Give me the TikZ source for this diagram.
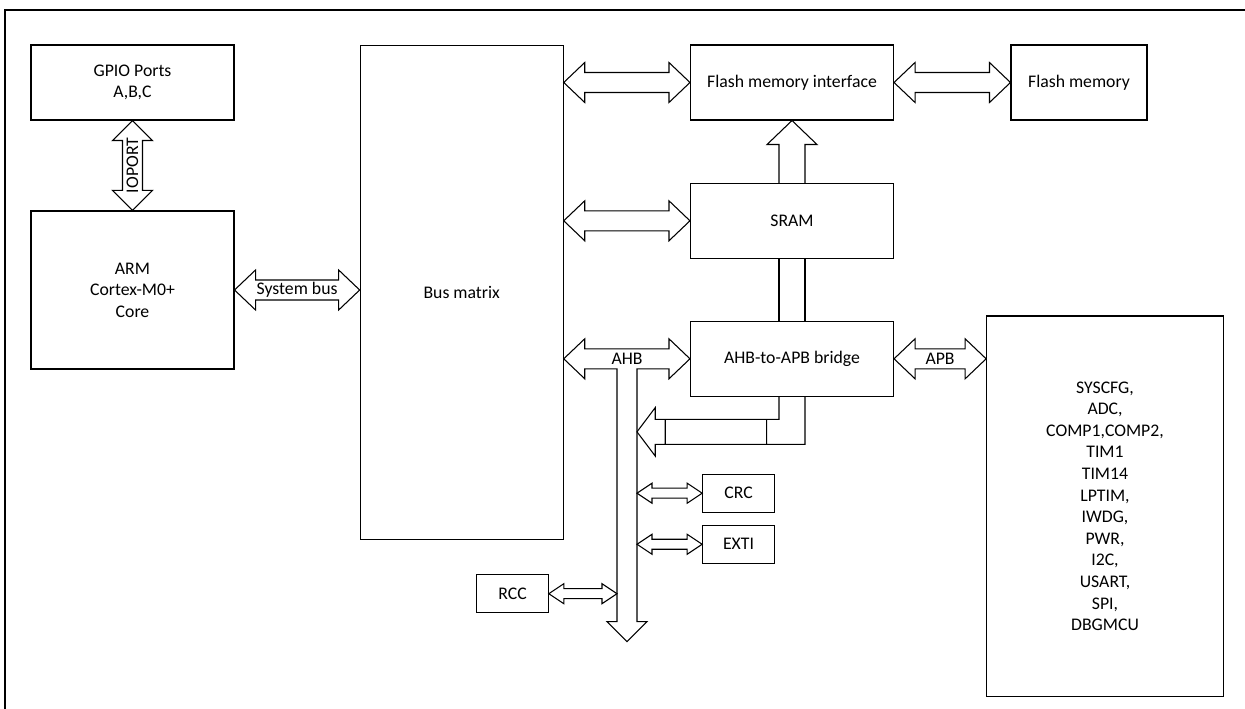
\documentclass[tikz,border=0pt]{standalone}
\usepackage{fontspec}
\setmainfont{Carlito}
\usetikzlibrary{positioning,calc}

% horizontal double block arrow: left end, right end, shaft half, head half, head length, label
\newcommand{\hbus}[6]{%
  \draw[blk] let \p1=(#1), \p2=(#2) in
    (\x1,\y1) -- (\x1+#5,\y1+#4) -- (\x1+#5,\y1+#3) -- (\x2-#5,\y1+#3)
    -- (\x2-#5,\y1+#4) -- (\x2,\y1) -- (\x2-#5,\y1-#4) -- (\x2-#5,\y1-#3)
    -- (\x1+#5,\y1-#3) -- (\x1+#5,\y1-#4) -- cycle
    ({(\x1+\x2)/2},\y1) node[lbl] {#6};}

\begin{document}
\begin{tikzpicture}[
  x=0.75pt,y=-0.75pt,
  line width=0.8pt,
  every node/.style={font=\fontsize{13.3}{16.2}\selectfont},
  box/.style={draw,align=center,inner sep=0pt,
              minimum width=152.25pt,minimum height=56.25pt},
  smallbox/.style={draw,inner sep=0pt,minimum width=53.7pt,minimum height=28.3pt},
  blk/.style={draw,fill=white},
  lbl/.style={inner sep=0pt}
]
\useasboundingbox (0,0) rectangle (1245,709);
\draw (5,720) -- (5,10) -- (1260,10);

\node[box] (gpio) at (132.5,82.5) {GPIO Ports\\A,B,C};
\node[box,minimum height=118.5pt] (arm) at (132.5,290) {ARM\\Cortex-M0+\\Core};
\node[box,minimum height=370.7pt] (bus) at (461.7,292.2) {Bus matrix};
\node[box] (flashif) at (792,82.5) {Flash memory interface};
\node[box,minimum width=102pt] (flash) at (1079,82.5) {Flash memory};
\node[box] (sram) at (792,220.8) {SRAM};
\node[box] (bridge) at (792,358.8) {AHB-to-APB bridge};
\node[box,minimum width=177.5pt,minimum height=285.5pt] (periph) at (1105,506.3)
  {SYSCFG,\\ADC,\\COMP1,COMP2,\\TIM1\\TIM14\\LPTIM,\\IWDG,\\PWR,\\I2C,\\USART,\\SPI,\\DBGMCU};
\node[smallbox] (crc) at (738.5,493.2) {CRC};
\node[smallbox,below=9.2pt of crc] (exti) {EXTI};
\node[smallbox] (rcc) at (512.5,593.7) {RCC};

\coordinate (ahb) at (627,641.7);
\coordinate (ahbL) at ([xshift=-7.5pt]ahb);
\coordinate (ahbR) at ([xshift=7.5pt]ahb);
\coordinate (rettip) at ($(ahbR |- bridge.south)+(0,-26.25pt)$);

\draw[blk] let \p1=(gpio.south), \p2=(arm.north) in
  (\x1,\y1) -- (\x1+15pt,\y1-15pt) -- (\x1+7.5pt,\y1-15pt) -- (\x1+7.5pt,\y2+15pt)
  -- (\x1+15pt,\y2+15pt) -- (\x1,\y2) -- (\x1-15pt,\y2+15pt) -- (\x1-7.5pt,\y2+15pt)
  -- (\x1-7.5pt,\y1-15pt) -- (\x1-15pt,\y1-15pt) -- cycle
  (\x1,{(\y1+\y2)/2}) node[lbl,rotate=90] {IOPORT};

\hbus{arm.east}{arm.east -| bus.west}{7.5pt}{15pt}{15.75pt}{System bus}
\hbus{flashif.west -| bus.east}{flashif.west}{7.5pt}{15pt}{15.75pt}{}
\hbus{sram.west -| bus.east}{sram.west}{7.5pt}{15pt}{15.75pt}{}
\hbus{flashif.east}{flash.west}{7.5pt}{15pt}{15.75pt}{}
\hbus{bridge.east}{bridge.east -| periph.west}{7.5pt}{15pt}{15.75pt}{APB}

\draw[blk] let \p1=(bridge.west -| bus.east), \p2=(bridge.west), \p3=(ahb) in
  (\x1,\y1) -- (\x1+15.75pt,\y1+15pt) -- (\x1+15.75pt,\y1+7.5pt) -- (\x2-15.75pt,\y1+7.5pt)
  -- (\x2-15.75pt,\y1+15pt) -- (\x2,\y1) -- (\x2-15.75pt,\y1-15pt) -- (\x2-15.75pt,\y1-7.5pt)
  -- (\x3+7.5pt,\y1-7.5pt) -- (\x3+7.5pt,\y3+15pt) -- (\x3+15pt,\y3+15pt) -- (\x3,\y3)
  -- (\x3-15pt,\y3+15pt) -- (\x3-7.5pt,\y3+15pt) -- (\x3-7.5pt,\y1-7.5pt)
  -- (\x1+15.75pt,\y1-7.5pt) -- (\x1+15.75pt,\y1-15pt) -- cycle;
\node[lbl] at (ahb |- bridge.west) {AHB};

\hbus{ahbR |- crc.west}{crc.west}{3.75pt}{7.5pt}{11.25pt}{}
\hbus{ahbR |- exti.west}{exti.west}{3.75pt}{7.5pt}{11.25pt}{}
\hbus{rcc.east}{rcc.east -| ahbL}{3.75pt}{7.5pt}{11.25pt}{}

\draw[blk] let \p1=(sram.north), \p2=(flashif.south) in
  (\x1-9.75pt,\y1) -- (\x1-9.75pt,\y2-18pt) -- (\x1-18.75pt,\y2-18pt) -- (\x1,\y2)
  -- (\x1+18.75pt,\y2-18pt) -- (\x1+9.75pt,\y2-18pt) -- (\x1+9.75pt,\y1);
\draw ([xshift=-9.75pt]sram.south) -- ([xshift=-9.75pt]bridge.north);
\draw ([xshift=9.75pt]sram.south) -- ([xshift=9.75pt]bridge.north);

\draw let \p1=(bridge.south), \p2=(rettip) in
  (\x1-9.75pt,\y1) -- (\x1-9.75pt,\y2+9.4pt) -- (\x2+13.7pt,\y2+9.4pt) -- (\x2+13.7pt,\y2+18.2pt)
  -- (\x2,\y2) -- (\x2+13.7pt,\y2-18.2pt) -- (\x2+13.7pt,\y2-9.4pt) -- (\x1+9.75pt,\y2-9.4pt)
  -- (\x1+9.75pt,\y1)
  (\x2+21.2pt,\y2+9.4pt) rectangle (\x1-19pt,\y2-9.4pt);
\end{tikzpicture}
\end{document}
